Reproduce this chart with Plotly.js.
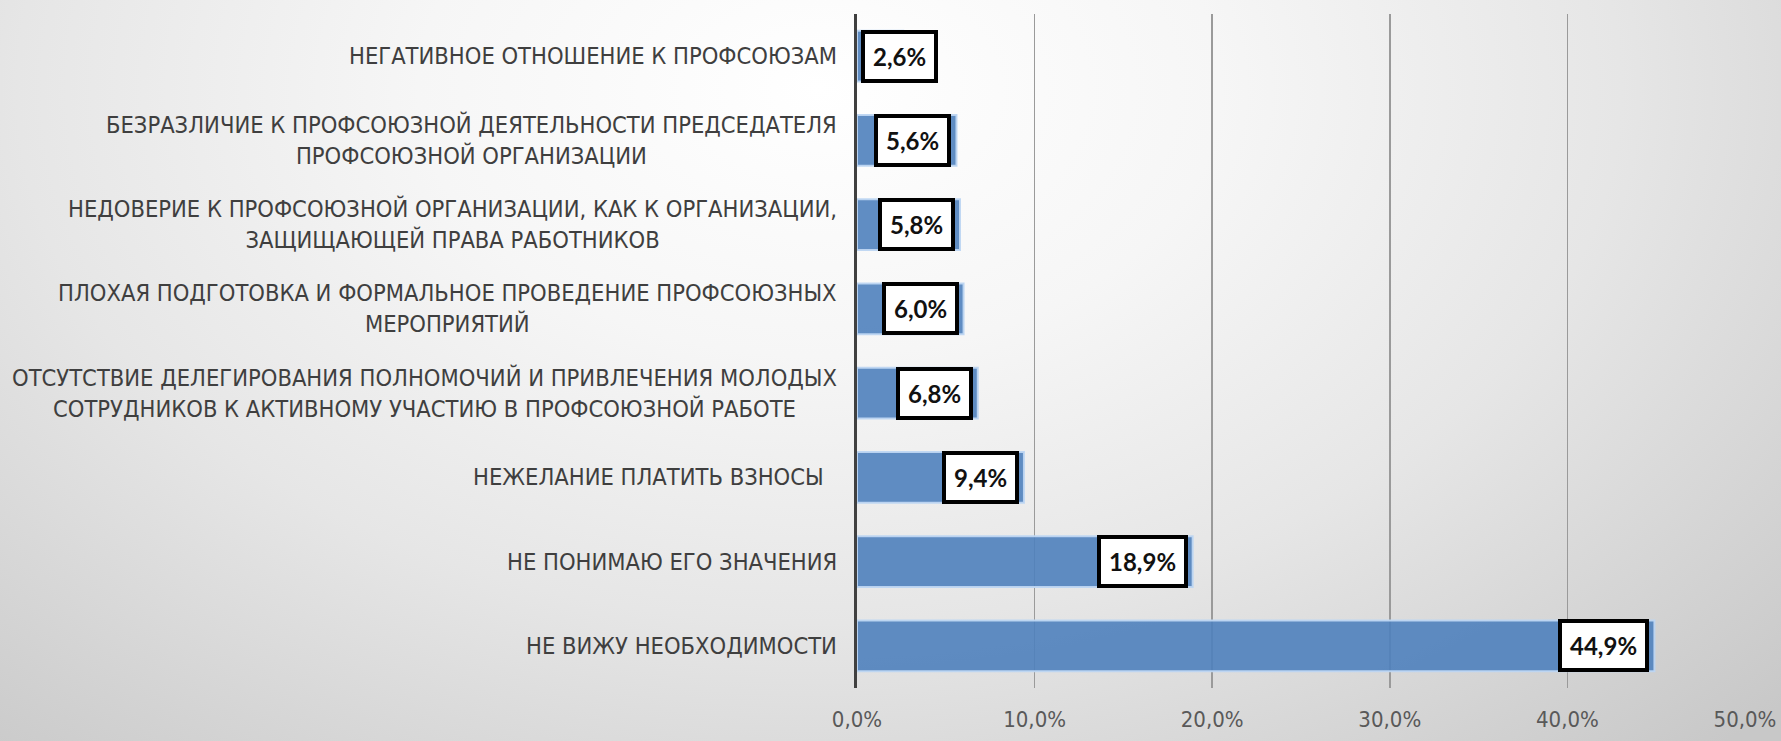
<!DOCTYPE html>
<html>
<head>
<meta charset="utf-8">
<script src="https://cdn.plot.ly/plotly-3.0.1.min.js"></script>
<style>
html, body { margin: 0; padding: 0; width: 1781px; height: 741px; overflow: hidden; }
body { background: radial-gradient(ellipse 75% 120% at 46% 12%, #ffffff 0%, #f6f6f6 30%, #e6e6e6 60%, #c8c8c8 100%); }
#chart { width: 1781px; height: 741px; }
</style>
</head>
<body>
<div id="chart"></div>
<script>
// Categories (top to bottom as in the picture)
const categories = [
  "НЕГАТИВНОЕ ОТНОШЕНИЕ К ПРОФСОЮЗАМ",
  "БЕЗРАЗЛИЧИЕ К ПРОФСОЮЗНОЙ ДЕЯТЕЛЬНОСТИ ПРЕДСЕДАТЕЛЯ<br>ПРОФСОЮЗНОЙ ОРГАНИЗАЦИИ",
  "НЕДОВЕРИЕ К ПРОФСОЮЗНОЙ ОРГАНИЗАЦИИ, КАК К ОРГАНИЗАЦИИ,<br>ЗАЩИЩАЮЩЕЙ ПРАВА РАБОТНИКОВ",
  "ПЛОХАЯ ПОДГОТОВКА И ФОРМАЛЬНОЕ ПРОВЕДЕНИЕ ПРОФСОЮЗНЫХ<br>МЕРОПРИЯТИЙ",
  "ОТСУТСТВИЕ ДЕЛЕГИРОВАНИЯ ПОЛНОМОЧИЙ И ПРИВЛЕЧЕНИЯ МОЛОДЫХ<br>СОТРУДНИКОВ К АКТИВНОМУ УЧАСТИЮ В ПРОФСОЮЗНОЙ РАБОТЕ",
  "НЕЖЕЛАНИЕ ПЛАТИТЬ ВЗНОСЫ&nbsp;&nbsp;",
  "НЕ ПОНИМАЮ ЕГО ЗНАЧЕНИЯ",
  "НЕ ВИЖУ НЕОБХОДИМОСТИ"
];
const values = [2.6, 5.6, 5.8, 6.0, 6.8, 9.4, 18.9, 44.9];
const valueLabels = ["2,6%", "5,6%", "5,8%", "6,0%", "6,8%", "9,4%", "18,9%", "44,9%"];
const xTickValues = [0, 10, 20, 30, 40, 50];
const xTickLabels = ["0,0%", "10,0%", "20,0%", "30,0%", "40,0%", "50,0%"];

const W = 1781, H = 741;
const margin = {l: 857, r: 36, t: 14, b: 53, pad: 0};
const xMax = 50;
const pxPerUnit = (W - margin.l - margin.r) / xMax;
const narrow = '"DejaVu Sans Condensed", "Liberation Sans Narrow", "Roboto", sans-serif';

const trace = {
  type: 'bar',
  orientation: 'h',
  x: values,
  y: categories,
  marker: {
    color: 'rgba(79,129,189,0.9)',
    line: {color: 'rgba(190,214,242,0.95)', width: 2}
  },
  hoverinfo: 'skip'
};

const annotations = [];
categories.forEach((c) => {
  annotations.push({
    xref: 'paper', yref: 'y', x: 0, y: c,
    xanchor: 'right', yanchor: 'middle', xshift: -18,
    text: c, showarrow: false, align: 'center',
    font: {family: narrow, size: 23.5, color: '#3f3f3f'}
  });
});
values.forEach((v, i) => {
  const boxW = 84;
  const fits = v * pxPerUnit > boxW + 6;
  annotations.push({
    xref: 'x', yref: 'y',
    x: fits ? v : 0, y: categories[i],
    xanchor: fits ? 'right' : 'left', yanchor: 'middle',
    xshift: fits ? -5 : 4,
    text: '<b>' + valueLabels[i] + '</b>', showarrow: false,
    bgcolor: '#ffffff', bordercolor: '#000000', borderwidth: 4, borderpad: 8,
    font: {family: 'Lato, "Liberation Sans", sans-serif', size: 24, color: '#111111'}
  });
});

const layout = {
  width: W, height: H,
  margin: margin,
  paper_bgcolor: 'rgba(0,0,0,0)',
  plot_bgcolor: 'rgba(0,0,0,0)',
  showlegend: false,
  bargap: 0.4,
  xaxis: {
    range: [0, xMax],
    tickmode: 'array',
    tickvals: xTickValues,
    ticktext: xTickLabels,
    showgrid: true,
    gridcolor: '#9a9a9a',
    gridwidth: 1.5,
    zeroline: false,
    showline: false,
    ticks: '',
    ticklabelstandoff: 16,
    tickfont: {family: narrow, size: 22, color: '#595959'},
    fixedrange: true
  },
  yaxis: {
    type: 'category',
    autorange: 'reversed',
    showticklabels: false,
    showgrid: false,
    showline: true,
    linecolor: '#404040',
    linewidth: 3,
    ticks: '',
    fixedrange: true
  },
  annotations: annotations
};

Plotly.newPlot('chart', [trace], layout, {staticPlot: true, displayModeBar: false});
</script>
</body>
</html>
